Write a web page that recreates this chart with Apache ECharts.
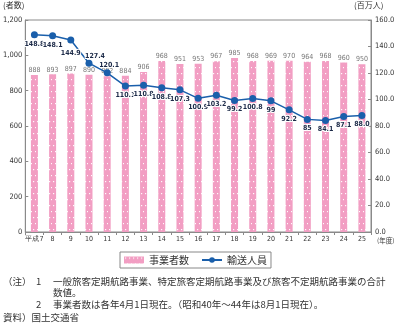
<!DOCTYPE html>
<html>
<head>
<meta charset="utf-8">
<script src="https://cdn.jsdelivr.net/npm/echarts@6/dist/echarts.min.js"></script>
<style>
  html, body { margin: 0; padding: 0; background: #fff; }
  #chart { width: 399px; height: 328px; }
</style>
</head>
<body>
<div id="chart"></div>
<script>
// Fiscal years (平成7 … 25)
const years = ['平成7', '8', '9', '10', '11', '12', '13', '14', '15', '16', '17', '18', '19', '20', '21', '22', '23', '24', '25'];
// Number of operators (者数)
const operators = [888, 893, 897, 890, 882, 884, 906, 968, 951, 953, 967, 985, 968, 969, 970, 964, 968, 960, 950];
// Passengers carried (百万人)
const passengers = [148.8, 148.1, 144.9, 127.4, 120.1, 110.1, 110.8, 108.8, 107.3, 100.9, 103.2, 99.2, 100.8, 99, 92.2, 85, 84.1, 87.1, 88.0];
const passengerLabels = ['148.8', '148.1', '144.9', '127.4', '120.1', '110.1', '110.8', '108.8', '107.3', '100.9', '103.2', '99.2', '100.8', '99', '92.2', '85', '84.1', '87.1', '88.0'];
// Left / right axis tick values
const leftTicks = [0, 200, 400, 600, 800, 1000, 1200];
const rightTicks = [0, 20, 40, 60, 80, 100, 120, 140, 160];

// Dotted pink fill for the operator bars
const tile = document.createElement('canvas');
tile.width = 4; tile.height = 12;
const tctx = tile.getContext('2d');
tctx.fillStyle = '#f29ec3';
tctx.fillRect(0, 0, 4, 12);
tctx.fillStyle = 'rgba(255,255,255,0.95)';
tctx.fillRect(1, 1, 1.2, 1.2);
tctx.fillRect(3, 7, 1.2, 1.2);
const dotted = { image: tile, repeat: 'repeat' };

const font = '"DejaVu Sans Condensed", "Liberation Sans Narrow", sans-serif';
const jp = '"Noto Sans CJK JP", sans-serif';

const lineData = passengers.map((v, i) => {
  const d = { value: v, label: { formatter: passengerLabels[i] } };
  if (i === 2) d.label.offset = [0, 4];
  if (i === 3) d.label = { formatter: passengerLabels[i], position: 'top', offset: [6, 2] };
  if (i === 4) d.label = { formatter: passengerLabels[i], position: 'top', offset: [2, 1] };
  return d;
});

const chart = echarts.init(document.getElementById('chart'), null, { renderer: 'canvas' });
chart.setOption({
  animation: false,
  grid: { left: 25, right: 28, top: 20, bottom: 96, show: true, borderColor: '#8a8a8a', borderWidth: 1 },
  legend: {
    left: 120, top: 252,
    padding: [3, 4],
    itemGap: 12,
    itemWidth: 20, itemHeight: 7,
    borderColor: '#888', borderWidth: 1,
    textStyle: { fontFamily: jp, fontSize: 10, color: '#333' },
    data: [
      { name: '事業者数', icon: 'rect', itemStyle: { color: dotted } },
      { name: '輸送人員' }
    ]
  },
  xAxis: {
    type: 'category',
    data: years,
    axisLine: { lineStyle: { color: '#8a8a8a' } },
    axisTick: { show: true, length: 3, lineStyle: { color: '#8a8a8a' } },
    axisLabel: { interval: 0, fontFamily: font, fontSize: 7, color: '#333', margin: 4 }
  },
  yAxis: [
    {
      type: 'value', min: 0, max: 1200, interval: 200,
      axisLine: { show: true, lineStyle: { color: '#8a8a8a' } },
      axisTick: { show: true, inside: true, length: 3, lineStyle: { color: '#8a8a8a' } },
      splitLine: { show: false },
      axisLabel: {
        fontFamily: font, fontSize: 7.5, color: '#333', margin: 3,
        formatter: v => leftTicks.includes(v) ? v.toLocaleString('en-US') : ''
      }
    },
    {
      type: 'value', min: 0, max: 160, interval: 20,
      axisLine: { show: true, lineStyle: { color: '#8a8a8a' } },
      axisTick: { show: true, inside: true, length: 3, lineStyle: { color: '#8a8a8a' } },
      splitLine: { show: false },
      axisLabel: {
        fontFamily: font, fontSize: 7.5, color: '#333', margin: 4,
        formatter: v => rightTicks.includes(v) ? v.toFixed(1) : ''
      }
    }
  ],
  series: [
    {
      name: '事業者数',
      type: 'bar',
      yAxisIndex: 0,
      barWidth: 7,
      data: operators,
      itemStyle: { color: dotted },
      label: {
        show: true, position: 'top', distance: 1,
        fontFamily: font, fontSize: 7, color: '#777'
      }
    },
    {
      name: '輸送人員',
      type: 'line',
      yAxisIndex: 1,
      data: lineData,
      symbol: 'circle',
      symbolSize: 7,
      lineStyle: { color: '#1a5fab', width: 1.5 },
      itemStyle: { color: '#1a5fab' },
      label: {
        show: true, position: 'bottom', distance: 2,
        fontFamily: font, fontSize: 7, fontWeight: 'bold', color: '#1c2a48',
        textBorderColor: '#fff', textBorderWidth: 2
      },
      z: 5
    }
  ],
  graphic: [
    { type: 'text', left: 3, top: 1, style: { text: '(者数)', font: '8px ' + jp, fill: '#333' } },
    { type: 'text', left: 354, top: 1, style: { text: '(百万人)', font: '8px ' + jp, fill: '#333' } },
    { type: 'text', left: 377, top: 237, style: { text: '(年度)', font: '6.5px ' + jp, fill: '#333' } },
    { type: 'text', left: 3, top: 277, style: { text: '（注）', font: '9.5px ' + jp, fill: '#333' } },
    { type: 'text', left: 36, top: 277, style: { text: '1', font: '9.5px ' + jp, fill: '#333' } },
    { type: 'text', left: 53, top: 277, style: { text: '一般旅客定期航路事業、特定旅客定期航路事業及び旅客不定期航路事業の合計', font: '9.5px ' + jp, fill: '#333' } },
    { type: 'text', left: 53, top: 288, style: { text: '数値。', font: '9.5px ' + jp, fill: '#333' } },
    { type: 'text', left: 36, top: 300, style: { text: '2', font: '9.5px ' + jp, fill: '#333' } },
    { type: 'text', left: 53, top: 300, style: { text: '事業者数は各年4月1日現在。（昭和40年～44年は8月1日現在）。', font: '9.5px ' + jp, fill: '#333' } },
    { type: 'text', left: 3, top: 313, style: { text: '資料）国土交通省', font: '9.5px ' + jp, fill: '#333' } }
  ]
});
</script>
</body>
</html>
